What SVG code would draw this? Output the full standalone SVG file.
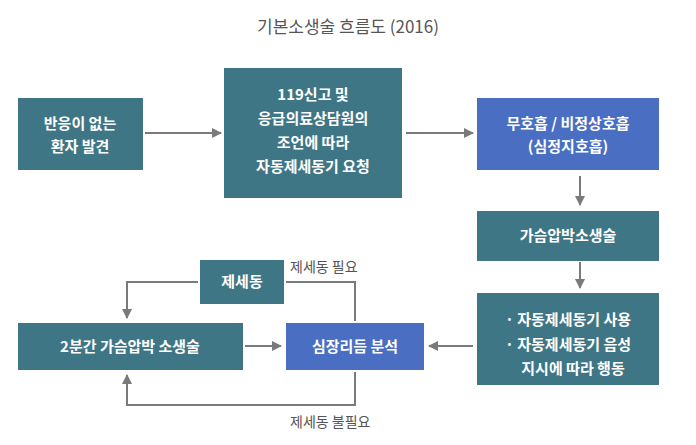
<svg xmlns="http://www.w3.org/2000/svg" width="696" height="445" viewBox="0 0 696 445">
<style>
.t{fill:#3f7686}.b{fill:#4a6ec2}
text{font-family:"Noto Sans CJK KR","Noto Sans",sans-serif}
.w{fill:#fff;font-size:15px;font-weight:bold;text-anchor:middle}
.l{fill:#555;font-size:14px}
.c{fill:none;stroke:#7a7a7a;stroke-width:2}
</style>
<defs><marker id="a" viewBox="0 0 10 10" refX="9" refY="5" markerWidth="5" markerHeight="5" orient="auto"><path d="M0,0L10,5L0,10z" fill="#7a7a7a"/></marker></defs>
<rect width="696" height="445" fill="#fff"/>
<text x="348" y="33" text-anchor="middle" font-size="17" fill="#555">기본소생술 흐름도 (2016)</text>
<g id="n1"><rect class="t" x="18" y="98" width="125" height="72"/><text class="w" x="80" y="129">반응이 없는</text><text class="w" x="80" y="152">환자 발견</text></g>
<g id="n2"><rect class="t" x="224" y="68" width="178" height="130"/><text class="w" x="313" y="100">119신고 및</text><text class="w" x="313" y="124">응급의료상담원의</text><text class="w" x="313" y="148">조언에 따라</text><text class="w" x="313" y="172">자동제세동기 요청</text></g>
<g id="n3"><rect class="b" x="477" y="98" width="182" height="72"/><text class="w" x="568" y="129">무호흡 / 비정상호흡</text><text class="w" x="568" y="152">(심정지호흡)</text></g>
<g id="n4"><rect class="t" x="477" y="211" width="182" height="50"/><text class="w" x="568" y="241">가슴압박소생술</text></g>
<g id="n5"><rect class="t" x="477" y="293" width="182" height="92"/><text class="w" x="568" y="325">· 자동제세동기 사용</text><text class="w" x="568" y="350">· 자동제세동기 음성</text><text class="w" x="573" y="374">지시에 따라 행동</text></g>
<g id="n6"><rect class="b" x="286" y="323" width="138" height="47"/><text class="w" x="355" y="352">심장리듬 분석</text></g>
<g id="n7"><rect class="t" x="18" y="323" width="225" height="47"/><text class="w" x="130" y="352">2분간 가슴압박 소생술</text></g>
<g id="n8"><rect class="t" x="200" y="260" width="84" height="44"/><text class="w" x="242" y="287">제세동</text></g>
<g id="edges">
<path class="c" marker-end="url(#a)" d="M145,133H221"/>
<path class="c" marker-end="url(#a)" d="M406,133H473"/>
<path class="c" marker-end="url(#a)" d="M580,176V205"/>
<path class="c" marker-end="url(#a)" d="M580,262V288"/>
<path class="c" marker-end="url(#a)" d="M473,346H429"/>
<path class="c" marker-end="url(#a)" d="M245,346H281"/>
<path class="c" d="M355,321V282H286"/>
<path class="c" marker-end="url(#a)" d="M198,282H127V318"/>
<path class="c" marker-end="url(#a)" d="M355,372V405H127V375"/>
<text class="l" x="290" y="272">제세동 필요</text>
<text class="l" x="290" y="427">제세동 불필요</text>
</g>
</svg>
